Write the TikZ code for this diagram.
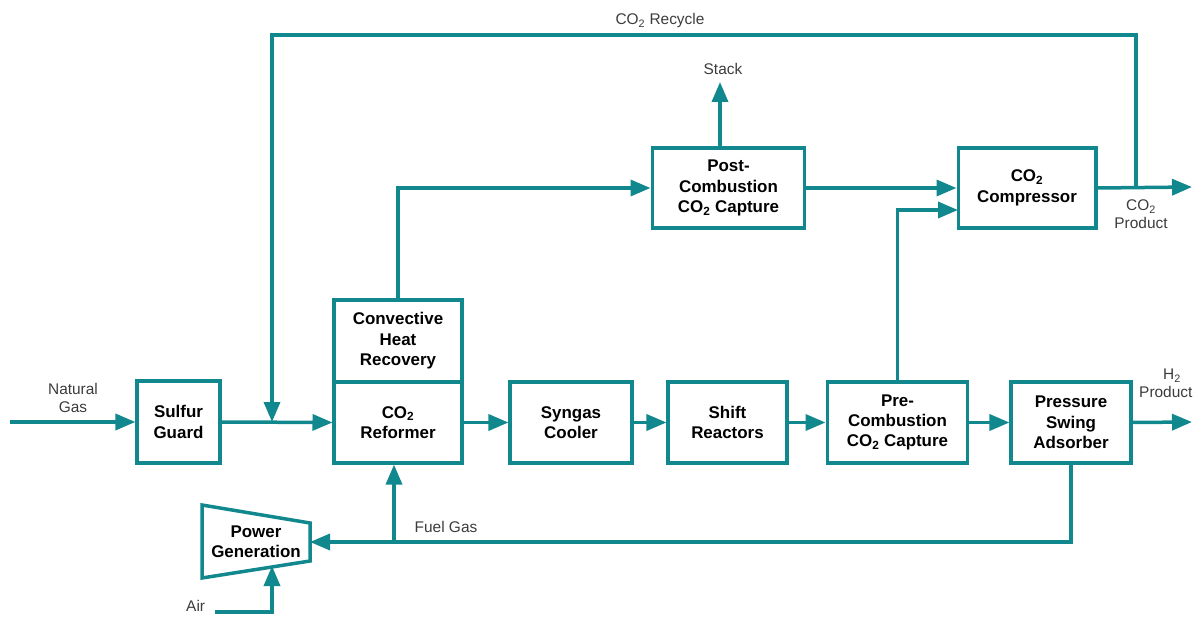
\documentclass[tikz,border=0pt]{standalone}
\usepackage{fontspec}
\setmainfont{Liberation Sans}
\usetikzlibrary{arrows.meta,calc}
\definecolor{teal1}{RGB}{16,136,142}
\definecolor{lbl}{RGB}{60,60,60}
\newcommand{\sbt}[1]{\textsubscript{#1}}
\tikzset{
  x=1bp,y=-1bp,
  unit/.style={draw=teal1,line width=3.5bp,fill=white,align=center,font=\fontsize{17}{20.5}\selectfont\bfseries,inner sep=0pt},
  flow/.style={draw=teal1,line width=3.5bp,line join=miter,-{Triangle[length=20bp,width=16bp]}},
  line/.style={draw=teal1,line width=3.5bp},
  lab/.style={align=center,text=lbl,font=\fontsize{15.5}{17.5}\selectfont,inner sep=0pt}
}
\begin{document}
\begin{tikzpicture}
\useasboundingbox (0,0) rectangle (1202,617);
% units
\node[unit,minimum width=83,minimum height=82] (sg) at (178.5,422) {Sulfur\\Guard};
\node[unit,minimum width=128,minimum height=82] (chr) at (398,341) {Convective\\Heat\\Recovery};
\node[unit,minimum width=128,minimum height=81] (ref) at (398,422.5) {CO\sbt{2}\\Reformer};
\node[unit,minimum width=122,minimum height=81] (syn) at (571,422.5) {Syngas\\Cooler};
\node[unit,minimum width=119,minimum height=81] (shf) at (727.5,422.5) {Shift\\Reactors};
\node[unit,minimum width=141,minimum height=81] (pre) at (897.5,422.5) {Pre-\\Combustion\\CO\sbt{2} Capture};
\node[unit,minimum width=120,minimum height=81] (psa) at (1071,422.5) {Pressure\\Swing\\Adsorber};
\node[unit,minimum width=153,minimum height=80] (post) at (728.5,188) {Post-\\Combustion\\CO\sbt{2} Capture};
\node[unit,minimum width=138,minimum height=80] (comp) at (1027,188) {CO\sbt{2}\\Compressor};
% power generation (trapezoid)
\draw[line,line join=miter,fill=white] (202,505) -- (310,523) -- (310,561) -- (202,578) -- cycle;
\node[align=center,font=\fontsize{17}{20.5}\selectfont\bfseries,inner sep=0pt,minimum width=108,minimum height=56] (pg) at (256,542) {Power\\Generation};
% coordinates
\coordinate (ng) at (10,422);
\coordinate (rj) at (272,422);
\coordinate (rtop) at (272,35);
\coordinate (cj) at (1136,187);
\coordinate (co2out) at (1192,187);
\coordinate (h2out) at (1192,422);
\coordinate (stack) at (720,82);
\coordinate (c2in) at (958,210);
\coordinate (fj) at (394,542);
\coordinate (air) at (215,612);
\coordinate (pgb) at (272,566);
% connectors
\draw[flow] (ng) -- (sg.west);
\draw[flow] (sg.east) -- (ref.west);
\draw[flow] (cj) |- (rtop) -- (rj);
\draw[flow] (ref.east) -- (syn.west);
\draw[flow] (syn.east) -- (shf.west);
\draw[flow] (shf.east) -- (pre.west);
\draw[flow] (pre.east) -- (psa.west);
\draw[flow] (psa.east) -- (h2out);
\draw[flow] (comp.east) -- (co2out);
\draw[flow] (post.north -| stack) -- (stack);
\draw[flow] (chr.north) |- (post.west);
\draw[flow] (post.east) -- (comp.west);
\draw[flow] (pre.north) |- (c2in);
\draw[flow] (psa.south) |- (pg.east);
\draw[flow] (fj) -- (fj |- ref.south);
\draw[flow] (air) -| (pgb);
% labels
\node[lab] (lng) at (73,398) {Natural\\Gas};
\node[lab] (lfuel) at (446,527) {Fuel Gas};
\node[lab] (lstack) at (723,69) {Stack};
\node[lab] (lrec) at (660,21) {CO\sbt{2} Recycle};
\node[lab] (lco2) at (1141,214) {CO\sbt{2}\\Product};
\node[lab,anchor=north west,align=left] (lh2) at (1139,369) {\hspace*{24bp}H\sbt{2}\\Product};
\node[lab,anchor=west] (lair) at (186,606) {Air};
\end{tikzpicture}
\end{document}
